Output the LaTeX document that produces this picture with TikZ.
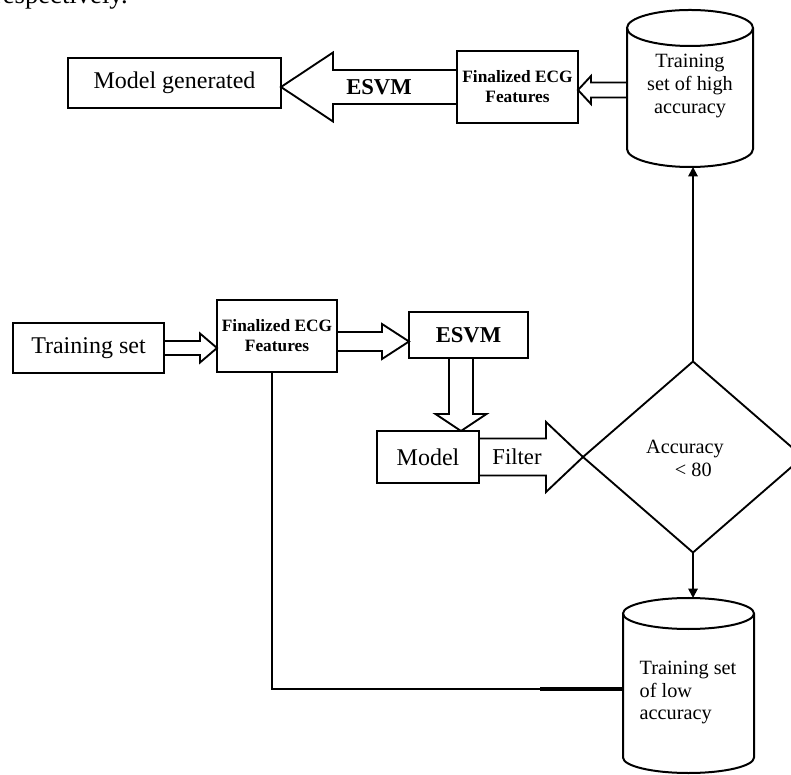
\documentclass[tikz,border=0pt]{standalone}
\usepackage{fontspec}
\setmainfont{Liberation Serif}
\usetikzlibrary{calc,shapes.geometric,arrows.meta}

% hollow block arrow: from, to, ux, uy, shaft half width, head half width, head length
\newcommand{\blockarrow}[7]{%
  \draw[blockarr]
    ($(#1)+({-(#5)*(#4)},{(#5)*(#3)})$) --
    ($(#2)+({-(#7)*(#3)-(#5)*(#4)},{-(#7)*(#4)+(#5)*(#3)})$) --
    ($(#2)+({-(#7)*(#3)-(#6)*(#4)},{-(#7)*(#4)+(#6)*(#3)})$) --
    (#2) --
    ($(#2)+({-(#7)*(#3)+(#6)*(#4)},{-(#7)*(#4)-(#6)*(#3)})$) --
    ($(#2)+({-(#7)*(#3)+(#5)*(#4)},{-(#7)*(#4)-(#5)*(#3)})$) --
    ($(#1)+({(#5)*(#4)},{-(#5)*(#3)})$);}

% cylinder outline round a node: node, x radius, y radius
\newcommand{\cylout}[3]{%
  \draw[cylline] ($(#1.north west)+(0,-#3)$) -- ($(#1.south west)+(0,#3)$)
    arc[start angle=180, end angle=360, x radius=#2, y radius=#3]
    -- ($(#1.north east)+(0,-#3)$);
  \draw[cylline] ($(#1.north)+(0,-#3)$) ellipse[x radius=#2, y radius=#3];}

\begin{document}
\begin{tikzpicture}[x=0.75pt,y=0.75pt,
  box/.style={draw, line width=1.9pt, outer sep=0pt, inner sep=0pt},
  blockarr/.style={draw, line width=1.4pt, line join=miter},
  cylline/.style={line width=1.5pt},
  cylnode/.style={draw=none, outer sep=0pt, inner sep=0pt},
  link/.style={line width=1.4pt},
  linkarrow/.style={-{Triangle[length=7pt,width=7pt]}},
  big/.style={font=\fontsize{18}{20}\selectfont},
  bigbold/.style={font=\fontsize{17}{19}\selectfont\bfseries},
  small/.style={font=\fontsize{15.2}{17}\selectfont}]
\useasboundingbox (0,0) rectangle (791,774);
\clip (0,0) rectangle (791,774);

% line of page text cut at the top
\node[anchor=base east, inner sep=0pt, font=\fontsize{20}{22}\selectfont] (prevline) at (128,770) {respectively.};

% upper row
\node[box, big, minimum width=159.75pt, minimum height=37.5pt] (mgen) at (174.5,691) {Model generated};
\node[box, align=center, minimum width=90.75pt, minimum height=54pt,
      font=\fontsize{13}{15}\selectfont\bfseries] (feattop) at (517.5,687) {Finalized ECG\\Features};
\node[cylnode, minimum width=94.5pt, minimum height=117.75pt] (hicyl) at (690,685.5) {};
\cylout{hicyl}{63}{18}
\node[small, align=center] (hitxt) at (690,688) {Training\\set of high\\accuracy};

% lower part
\node[box, big, minimum width=113.25pt, minimum height=37.5pt] (tset) at (88.5,426) {Training set};
\node[box, align=center, minimum width=90pt, minimum height=54pt,
      font=\fontsize{13}{15}\selectfont\bfseries] (featlow) at (277,438) {Finalized ECG\\Features};
\node[box, bigbold, minimum width=89.25pt, minimum height=34.5pt] (esvm) at (468.5,439) {ESVM};
\node[box, big, minimum width=76.5pt, minimum height=39pt] (model) at (428,317) {Model};
\node[diamond, draw, line width=1.4pt, inner sep=0pt, outer sep=0pt,
      minimum width=165pt, minimum height=143.25pt] (acc) at (693,317) {};
\node[small, align=left] (acctxt) at (685,315.5) {Accuracy\\\hspace*{1.42em}< 80};
\node[cylnode, minimum width=98.25pt, minimum height=131.25pt] (lowcyl) at (688.5,88.5) {};
\cylout{lowcyl}{65.5}{15.5}
\node[small, align=left] (lowtxt) at (688,81.5) {Training set\\of low\\accuracy};

% block arrows
\coordinate (mgtip) at (feattop.west -| mgen.east);
\blockarrow{feattop.west}{mgtip}{-1}{0}{17}{34.5}{52}
\node[bigbold] (esvmlbl) at (379,687) {ESVM};

\coordinate (ftin) at ($(feattop.east)+(0,-3)$);
\coordinate (hiout) at (hicyl.west |- ftin);
\blockarrow{hiout}{ftin}{-1}{0}{7.5}{14}{13}

\coordinate (tsin) at (tset.east -| featlow.west);
\blockarrow{tset.east}{tsin}{1}{0}{7}{14.5}{17}

\coordinate (flout) at ($(featlow.east)+(0,-5.5)$);
\coordinate (esin) at (flout -| esvm.west);
\blockarrow{flout}{esin}{1}{0}{9.5}{17.5}{27}

\coordinate (esout) at ($(esvm.south)+(-7.5,0)$);
\coordinate (mdin) at (esout |- model.north);
\blockarrow{esout}{mdin}{0}{-1}{12}{25.5}{17}

\blockarrow{model.east}{acc.west}{1}{0}{18.5}{35}{37}
\node[font=\fontsize{17}{19}\selectfont] (filterlbl) at (517,317) {Filter};

% thin connectors
\draw[link, linkarrow] (acc.north) -- (acc.north |- hicyl.south);
\draw[link, linkarrow] (acc.south) -- (acc.south |- lowcyl.north);
\coordinate (flbot) at ($(featlow.south)+(-5,0)$);
\coordinate (seam) at ($(lowcyl.west)+(-83,-3.5)$);
\draw[link] (flbot) |- (seam);
\draw[line width=2.3pt] (seam) -- (seam -| lowcyl.west);
\end{tikzpicture}
\end{document}
